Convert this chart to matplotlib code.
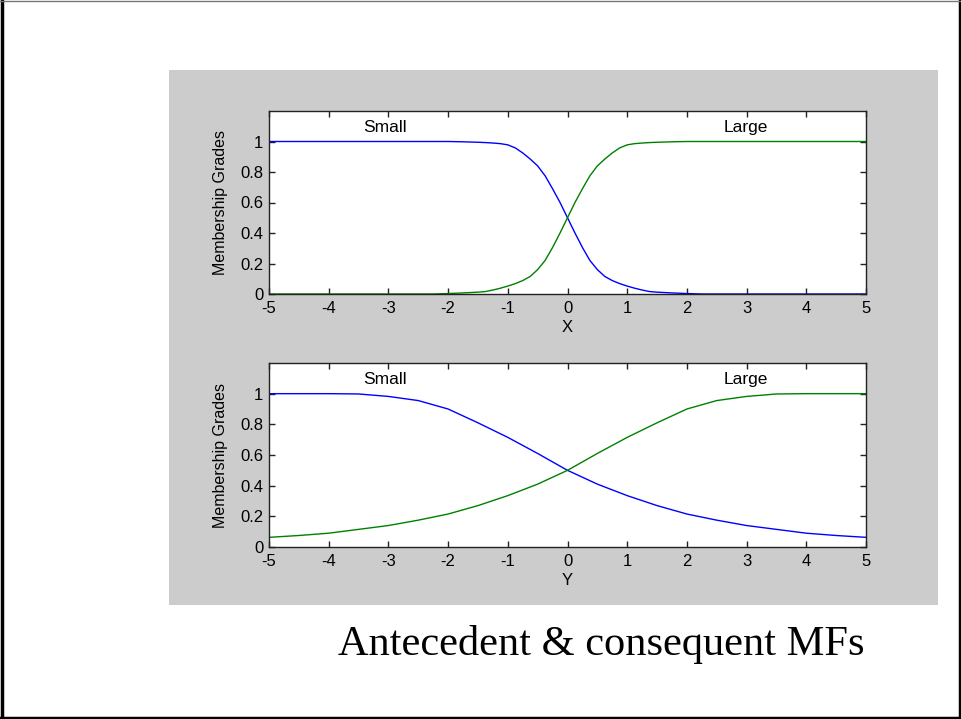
import numpy as np
import matplotlib
matplotlib.use('Agg')
import matplotlib.pyplot as plt
from matplotlib.patches import Rectangle
from matplotlib.lines import Line2D

# antecedent MFs on X
x_in = [-5, -2.25, -2, -1.75, -1.5, -1.375, -1.25, -1.125, -1, -0.875, -0.75, -0.625, -0.5, -0.375, -0.25, -0.125,
        0, 0.125, 0.25, 0.375, 0.5, 0.625, 0.75, 0.875, 1, 1.125, 1.25, 1.375, 1.5, 1.75, 2, 2.25, 5]
small_in = [1.0, 1.0, 1.0, 0.998, 0.995, 0.993, 0.99, 0.986, 0.978, 0.958, 0.925, 0.885, 0.84, 0.775, 0.69, 0.6,
            0.5, 0.4, 0.305, 0.22, 0.16, 0.115, 0.088, 0.068, 0.052, 0.038, 0.026, 0.016, 0.012, 0.007, 0.003, 0.0, 0.0]
large_in = [0.0, 0.0, 0.003, 0.007, 0.012, 0.016, 0.026, 0.038, 0.052, 0.068, 0.088, 0.115, 0.16, 0.22, 0.305, 0.4,
            0.5, 0.6, 0.69, 0.775, 0.84, 0.885, 0.925, 0.958, 0.978, 0.986, 0.99, 0.993, 0.995, 0.998, 1.0, 1.0, 1.0]

# consequent MFs on Y
y_out = [-5, -4.5, -4, -3.5, -3, -2.5, -2, -1.5, -1, -0.5, 0, 0.5, 1, 1.5, 2, 2.5, 3, 3.5, 4, 4.5, 5]
small_out = [1.0, 1.0, 1.0, 0.998, 0.982, 0.955, 0.90, 0.81, 0.715, 0.61, 0.5, 0.41, 0.335, 0.27, 0.215, 0.175, 0.14, 0.115, 0.09, 0.075, 0.063]
large_out = [0.063, 0.075, 0.09, 0.115, 0.14, 0.175, 0.215, 0.27, 0.335, 0.41, 0.5, 0.61, 0.715, 0.81, 0.90, 0.955, 0.982, 0.998, 1.0, 1.0, 1.0]

mf_names = ['Small', 'Large']
xticks = [-5, -4, -3, -2, -1, 0, 1, 2, 3, 4, 5]
yticks = [0, 0.2, 0.4, 0.6, 0.8, 1]
ytick_labels = ['0', '0.2', '0.4', '0.6', '0.8', '1']

plt.rcParams['font.family'] = ['Liberation Sans', 'DejaVu Sans']

W, H = 962, 719
fig = plt.figure(figsize=(W / 100, H / 100), dpi=100)
fig.patch.set_facecolor('white')


def px_box(left, top, right, bottom):
    return [left / W, 1 - bottom / H, (right - left) / W, (bottom - top) / H]


# slide frame
fig.add_artist(Line2D([1.5 / W, 1.5 / W], [0, 1], color='black', lw=2.5))
fig.add_artist(Line2D([1 - 1.5 / W, 1 - 1.5 / W], [0, 1], color='black', lw=2.5))
fig.add_artist(Line2D([0, 1], [1.5 / H, 1.5 / H], color='black', lw=2.5))
fig.add_artist(Line2D([0, 1], [1 - 0.5 / H, 1 - 0.5 / H], color='#777777', lw=1))

# gray figure panel
b = px_box(169, 70, 938, 605)
fig.add_artist(Rectangle((b[0], b[1]), b[2], b[3], transform=fig.transFigure,
                         facecolor='#cccccc', edgecolor='none', zorder=0))


def draw_mfs(box, xs, small, large, xlabel):
    ax = fig.add_axes(box)
    ax.plot(xs, small, color='#0000ff', lw=1.0)
    ax.plot(xs, large, color='#008000', lw=1.0)
    ax.set_xlim(-5, 5)
    ax.set_ylim(0, 1.2)
    ax.set_xticks(xticks)
    ax.set_xticklabels([str(t) for t in xticks])
    ax.set_yticks(yticks)
    ax.set_yticklabels(ytick_labels)
    ax.tick_params(direction='in', length=4, width=1, top=True, right=True,
                   labelsize=12, color='#222222')
    ax.tick_params(axis='x', pad=5)
    ax.tick_params(axis='y', pad=4)
    for s in ax.spines.values():
        s.set_color('#222222')
        s.set_linewidth(1)
    ax.set_xlabel(xlabel, fontsize=12, va='top')
    ax.xaxis.set_label_coords(0.5, -0.14)
    ax.set_ylabel('Membership Grades', fontsize=11.5)
    ax.yaxis.set_label_coords(-0.069, 0.5)
    ax.text(-3.05, 1.09, mf_names[0], fontsize=12.5, ha='center', va='center')
    ax.text(2.98, 1.09, mf_names[1], fontsize=12.5, ha='center', va='center')
    return ax


draw_mfs(px_box(269, 111, 866, 294), x_in, small_in, large_in, 'X')
draw_mfs(px_box(269, 363, 866, 547), y_out, small_out, large_out, 'Y')

fig.text(338 / W, 1 - 655 / H, 'Antecedent & consequent MFs', fontsize=30.5,
         family=['Liberation Serif', 'DejaVu Serif'], ha='left', va='baseline')

fig.savefig('out.png', dpi=100)
